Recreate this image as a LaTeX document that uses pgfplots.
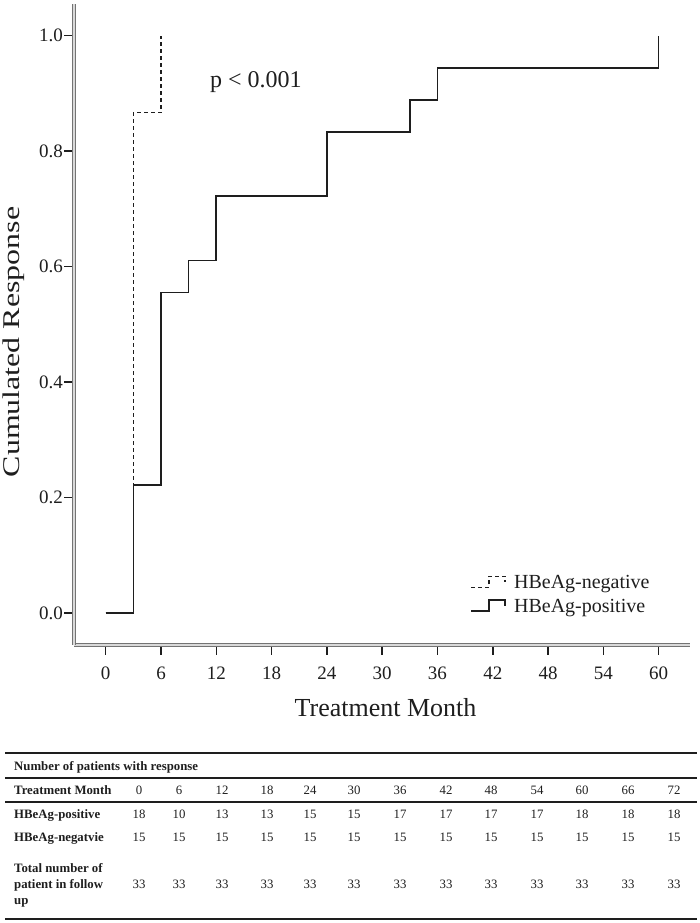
\documentclass[border=0pt]{standalone}
\usepackage{fontspec}
\setmainfont{Liberation Serif}
\usepackage{pgfplots}
\pgfplotsset{compat=1.18}
\definecolor{ink}{HTML}{1E1E1E}
\begin{document}
\begin{tikzpicture}[x=1pt,y=1pt]
\path[use as bounding box] (0,0) rectangle (700,923);
\begin{axis}[
  at={(74pt,278pt)}, anchor=south west,
  scale only axis, width=616pt, height=641pt,
  xmin=-3.44, xmax=63.4, ymin=-0.055, ymax=1.055,
  axis lines*=left,
  axis line style={draw=black!55, double=black!15, double distance=1.5pt, line width=1pt},
  xtick={0,6,...,60}, ytick={0,0.2,0.4,0.6,0.8,1.0},
  yticklabel style={/pgf/number format/fixed, /pgf/number format/fixed zerofill, /pgf/number format/precision=1, inner xsep=1pt},
  /pgf/number format/assume math mode=true,
  ticklabel style={font=\fontsize{19}{19}\selectfont, text=ink},
  xticklabel style={inner ysep=3pt, yshift=-9pt},
  tick align=outside, major tick length=10pt,
  tick style={ink, line width=1.5pt},
  xlabel={Treatment Month},
  ylabel={\scalebox{1.33}[1]{Cumulated Response}},
  label style={font=\fontsize{26}{26}\selectfont, text=ink},
  xlabel style={at={(axis description cs:0.5057,-0.1123)}, anchor=base},
  ylabel style={font=\fontsize{24}{24}\selectfont, at={(axis description cs:-0.0888,0.4727)}, anchor=base},
  legend style={at={(axis description cs:0.643,0.111)}, anchor=north west, draw=none, fill=none,
    font=\fontsize{20}{22}\selectfont, text=ink, row sep=7pt,
    inner sep=0pt, nodes={inner sep=1pt, anchor=west}},
  legend cell align=left,
  legend image code/.code={\draw[#1] (0pt,-5pt) -- (18pt,-5pt) -- (18pt,6pt) -- (34pt,6pt) -- (34pt,0pt);
    \path[draw=none, fill=none] (0pt,0pt) rectangle (42pt,0.1pt);},
]
\addplot[ink, line width=1.5pt, dash pattern=on 4pt off 3pt] coordinates {
  (0,0) (3,0) (3,0.8667) (6,0.8667) (6,1.0)};
\addlegendentry{HBeAg-negative}
\addplot[ink, line width=1.6pt] coordinates {
  (0,0) (3,0) (3,0.2222) (6,0.2222) (6,0.5556) (9,0.5556) (9,0.6111) (12,0.6111)
  (12,0.7222) (24,0.7222) (24,0.8333) (33,0.8333) (33,0.8889) (36,0.8889)
  (36,0.9444) (60,0.9444) (60,1.0)};
\addlegendentry{HBeAg-positive}
\node[anchor=base, font=\fontsize{24}{24}\selectfont, text=ink] at (axis cs:16.3,0.91) {p < 0.001};
\end{axis}
% table
\begin{scope}[font=\fontsize{12.8}{13}\selectfont, text=ink]
\draw[ink, line width=1.5pt] (5,170) -- (697,170);
\draw[ink, line width=1.5pt] (5,145) -- (697,145);
\draw[ink, line width=1.5pt] (5,121) -- (697,121);
\draw[ink, line width=1.5pt] (5,4) -- (697,4);
\node[anchor=base west, inner sep=0pt] at (14,152) {\bfseries Number of patients with response};
\node[anchor=base west, inner sep=0pt] at (14,128) {\bfseries Treatment Month};
\node[anchor=base west, inner sep=0pt] at (14,104) {\bfseries HBeAg-positive};
\node[anchor=base west, inner sep=0pt] at (14,81) {\bfseries HBeAg-negatvie};
\node[anchor=base west, inner sep=0pt] at (14,50) {\bfseries Total number of};
\node[anchor=base west, inner sep=0pt] at (14,34) {\bfseries patient in follow};
\node[anchor=base west, inner sep=0pt] at (14,18) {\bfseries up};
\foreach \cx/\m/\p/\n/\t in {139/0/18/15/33, 179/6/10/15/33, 222/12/13/15/33, 267/18/13/15/33,
  310/24/15/15/33, 354/30/15/15/33, 400/36/17/15/33, 446/42/17/15/33, 491/48/17/15/33,
  537/54/17/15/33, 582/60/18/15/33, 628/66/18/15/33, 674/72/18/15/33} {
  \node[anchor=base, inner sep=0pt] at (\cx,128) {\m};
  \node[anchor=base, inner sep=0pt] at (\cx,104) {\p};
  \node[anchor=base, inner sep=0pt] at (\cx,81) {\n};
  \node[anchor=base, inner sep=0pt] at (\cx,34) {\t};
}
\end{scope}
\end{tikzpicture}
\end{document}
